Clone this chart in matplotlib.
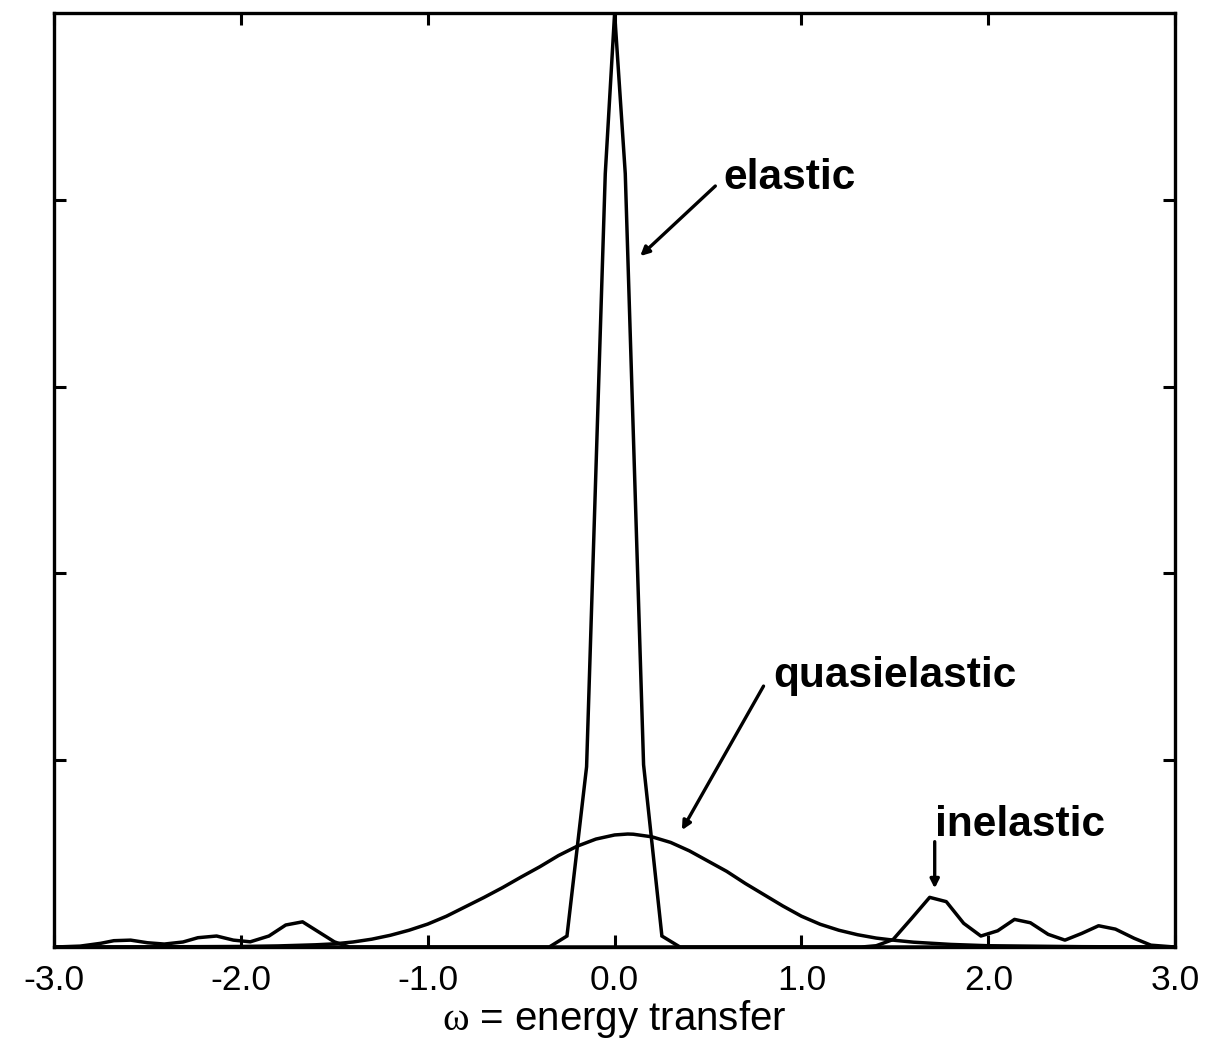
import numpy as np
import matplotlib
matplotlib.use("Agg")
import matplotlib.pyplot as plt

plt.rcParams['font.family'] = ['Liberation Sans', 'DejaVu Sans']
plt.rcParams['mathtext.fontset'] = 'custom'
plt.rcParams['mathtext.rm'] = 'Liberation Serif'

# elastic line (narrow central peak)
x_el = [-3.0, -0.35, -0.255, -0.15, -0.05, 0.0, 0.057, 0.155, 0.253, 0.35, 3.0]
y_el = [0.0, 0.0, 0.059, 0.965, 4.14, 5.0, 4.14, 0.976, 0.059, 0.0, 0.0]

# quasielastic broadening
x_qe = [-3.0, -2.5, -2.0, -1.8, -1.6, -1.5, -1.4, -1.3, -1.2, -1.1, -1.0,
        -0.9, -0.8, -0.7, -0.6, -0.5, -0.4, -0.3, -0.2, -0.1, 0.0, 0.07,
        0.1, 0.2, 0.3, 0.4, 0.5, 0.6, 0.7, 0.8, 0.9, 1.0, 1.1, 1.2, 1.3,
        1.4, 1.5, 1.6, 1.8, 2.0, 2.5, 3.0]
y_qe = [0.0, 0.001, 0.003, 0.006, 0.012, 0.017, 0.027, 0.042, 0.063, 0.09, 0.123,
        0.165, 0.215, 0.265, 0.318, 0.375, 0.43, 0.49, 0.54, 0.578, 0.6, 0.605,
        0.604, 0.59, 0.56, 0.515, 0.46, 0.405, 0.34, 0.28, 0.22, 0.165, 0.122,
        0.09, 0.066, 0.048, 0.036, 0.026, 0.014, 0.007, 0.002, 0.0]

# inelastic (phonon-like side bands)
x_in = [-3.0, -2.86, -2.75, -2.68, -2.59, -2.50, -2.41, -2.31, -2.23, -2.13,
        -2.04, -1.95, -1.85, -1.76, -1.67, -1.50, -1.42, 1.32, 1.40, 1.49,
        1.59, 1.686, 1.775, 1.868, 1.96, 2.05, 2.14, 2.225, 2.32, 2.41, 2.50,
        2.59, 2.68, 2.78, 2.87, 3.0]
y_in = [0.0, 0.005, 0.02, 0.034, 0.037, 0.023, 0.016, 0.027, 0.05, 0.059,
        0.037, 0.028, 0.059, 0.118, 0.135, 0.028, 0.0, 0.0, 0.007, 0.04,
        0.154, 0.266, 0.243, 0.127, 0.059, 0.087, 0.148, 0.13, 0.068, 0.037, 0.073,
        0.114, 0.096, 0.047, 0.01, 0.0]

xticks = [-3.0, -2.0, -1.0, 0.0, 1.0, 2.0, 3.0]
xticklabels = ['-3.0', '-2.0', '-1.0', '0.0', '1.0', '2.0', '3.0']

fig = plt.figure(figsize=(12.28, 10.43), dpi=100)
ax = fig.add_axes([0.044, 0.092, 0.913, 0.8955])

lw = 2.5
ax.plot(x_el, y_el, color='k', lw=lw, solid_joinstyle='miter')
ax.plot(x_qe, y_qe, color='k', lw=lw)
ax.plot(x_in, y_in, color='k', lw=lw)

ax.set_xlim(-3.0, 3.0)
ax.set_ylim(0, 5.0)
ax.set_xticks(xticks)
ax.set_xticklabels(xticklabels)
ax.set_yticks([1, 2, 3, 4])
ax.set_yticklabels([])
ax.minorticks_off()
ax.tick_params(direction='in', length=8.5, width=2.2, top=True, right=True,
               labelsize=25.5, pad=12)
for s in ax.spines.values():
    s.set_linewidth(2.4)

ax.set_xlabel(r'$\mathrm{\omega}$ = energy transfer', fontsize=29, labelpad=1)

arrow = dict(arrowstyle='-|>', color='k', lw=2.4, mutation_scale=13,
             shrinkA=0, shrinkB=0)
ax.annotate('', xy=(0.137, 3.699), xytext=(0.539, 4.074), arrowprops=arrow)
ax.text(0.581, 4.117, 'elastic', fontsize=30.5, fontweight='bold', va='center', ha='left')

ax.annotate('', xy=(0.36, 0.626), xytext=(0.797, 1.397), arrowprops=arrow)
ax.text(0.849, 1.451, 'quasielastic', fontsize=30.5, fontweight='bold', va='center', ha='left')

ax.annotate('', xy=(1.713, 0.314), xytext=(1.713, 0.564), arrowprops=arrow)
ax.text(1.716, 0.653, 'inelastic', fontsize=30.5, fontweight='bold', va='center', ha='left')

fig.savefig('out.png', dpi=100)
